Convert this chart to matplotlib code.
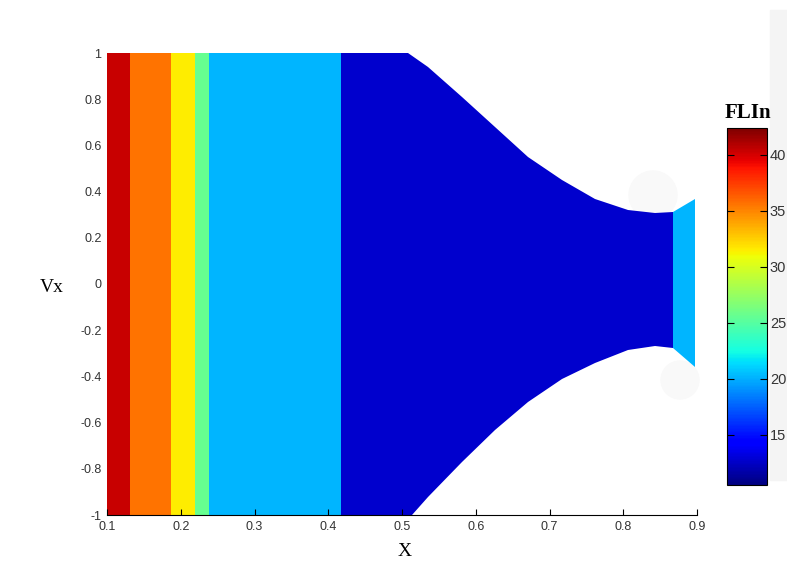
import numpy as np
import matplotlib
matplotlib.use('Agg')
import matplotlib.pyplot as plt
from matplotlib.patches import Polygon, Rectangle, Ellipse

# band edges along X and the FLIn value of each band
band_edges = [0.1, 0.131, 0.187, 0.219, 0.238, 0.417, 0.867, 0.897]
band_values = [40.3, 35.6, 31.5, 25.6, 20.1, 12.7, 20.1]

# upper and lower outline of the filled region
top_x = [0.1, 0.508, 0.535, 0.581, 0.626, 0.671, 0.717, 0.762, 0.806, 0.843, 0.867, 0.897]
top_y = [1.0, 1.0, 0.94, 0.81, 0.68, 0.55, 0.45, 0.37, 0.32, 0.307, 0.31, 0.37]
bot_x = [0.1, 0.514, 0.535, 0.581, 0.626, 0.671, 0.717, 0.762, 0.806, 0.843, 0.867, 0.897]
bot_y = [-1.0, -1.0, -0.92, -0.77, -0.63, -0.51, -0.41, -0.34, -0.286, -0.27, -0.277, -0.36]

x_ticks = [0.1, 0.2, 0.3, 0.4, 0.5, 0.6, 0.7, 0.8, 0.9]
y_ticks = [-1, -0.8, -0.6, -0.4, -0.2, 0, 0.2, 0.4, 0.6, 0.8, 1]
y_labels = ['-1', '-0.8', '-0.6', '-0.4', '-0.2', '0', '0.2', '0.4', '0.6', '0.8', '1']
cbar_ticks = [15, 20, 25, 30, 35, 40]
vmin, vmax = 10.5, 42.4

W, H = 787, 571
fig = plt.figure(figsize=(W / 100, H / 100), dpi=100)

# faint grey patches of the scanned background
fig.patches.append(Rectangle((770 / W, 1 - 480 / H), 17 / W, 470 / H,
                             transform=fig.transFigure, color='#f4f4f4', zorder=-5))
for cx, cy, r in [(653, 195, 24), (680, 380, 19)]:
    fig.patches.append(Ellipse((cx / W, 1 - cy / H), 2 * r / W, 2 * r / H,
                               transform=fig.transFigure, color='#f9f9f9', zorder=-5))

ax = fig.add_axes([107 / W, 1 - 515 / H, 590 / W, 462 / H])
ax.set_facecolor('none')

mesh = ax.pcolormesh(band_edges, [-1, 1], np.array([band_values]),
                     cmap='jet', vmin=vmin, vmax=vmax, shading='flat')
outline = list(zip(top_x, top_y)) + list(zip(bot_x[::-1], bot_y[::-1]))
clip = Polygon(outline, closed=True, transform=ax.transData)
mesh.set_clip_path(clip)

ax.set_xlim(0.1, 0.9)
ax.set_ylim(-1, 1)
ax.set_xticks(x_ticks)
ax.set_xticklabels([str(v) for v in x_ticks])
ax.set_yticks(y_ticks)
ax.set_yticklabels(y_labels)
for s in ['top', 'right', 'left']:
    ax.spines[s].set_visible(False)
ax.spines['bottom'].set_linewidth(0.8)
ax.tick_params(axis='x', direction='in', length=4, width=0.8, pad=4,
               labelsize=9, labelcolor='#333333')
ax.tick_params(axis='y', length=0, pad=4, labelsize=9, labelcolor='#333333')
for lab in ax.get_xticklabels() + ax.get_yticklabels():
    lab.set_fontfamily('Liberation Sans')

fig.text(52 / W, 1 - 287 / H, 'Vx', family='Liberation Serif', fontsize=14,
         ha='center', va='center')
fig.text(405 / W, 1 - 551 / H, 'X', family='Liberation Serif', fontsize=14,
         ha='center', va='center')

cax = fig.add_axes([727 / W, 1 - 485 / H, 40 / W, 357 / H])
cb = fig.colorbar(mesh, cax=cax, ticks=cbar_ticks)
cb.outline.set_linewidth(0.8)
cax.tick_params(direction='in', length=5, width=0.8, left=True, right=True,
                labelsize=10.5, pad=2, labelcolor='#333333')
for lab in cax.get_yticklabels():
    lab.set_fontfamily('Liberation Sans')
fig.text(748 / W, 1 - 113 / H, 'FLIn', family='Liberation Serif', fontsize=15,
         fontweight='bold', ha='center', va='center')

fig.savefig('out.png', dpi=100)
